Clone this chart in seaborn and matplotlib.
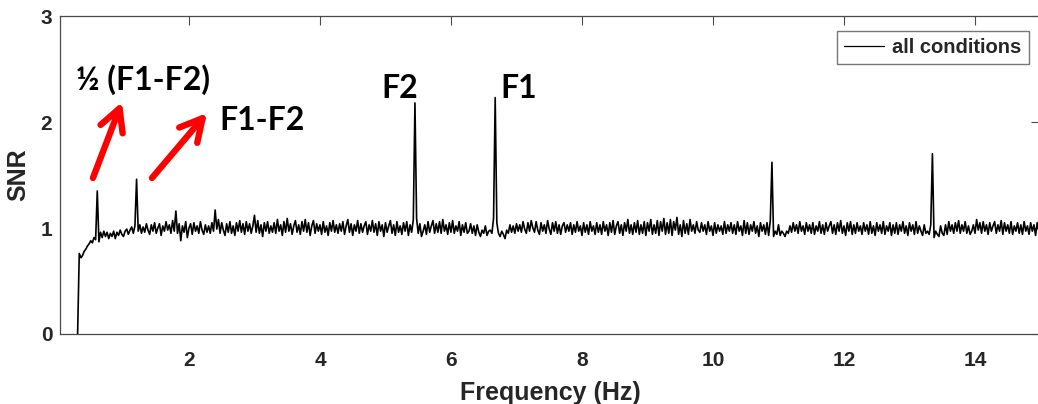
import numpy as np
import pandas as pd
import matplotlib
matplotlib.use("Agg")
import matplotlib.pyplot as plt
import seaborn as sns

# Spectrum bins: 0.3 Hz to 15 Hz in 0.025 Hz steps
freq_start = 0.3
freq_step = 0.025

# SNR per frequency bin (grand average over all conditions)
snr = [
    0.00, 0.76, 0.72, 0.74, 0.78, 0.80, 0.83, 0.85, 0.88, 0.86, 0.91, 0.89, 1.35, 0.87, 0.96, 0.91, 0.97, 0.92, 0.96, 0.90,
    0.95, 0.92, 0.97, 0.90, 0.96, 0.93, 0.98, 0.94, 0.92, 0.97, 0.99, 0.94, 0.98, 1.01, 0.95, 1.02, 1.46, 0.97, 1.03, 0.95,
    1.01, 0.96, 1.04, 0.98, 0.94, 1.03, 0.97, 1.05, 0.95, 1.00, 1.04, 0.93, 1.02, 0.97, 1.06, 0.98, 1.03, 0.95, 1.07, 0.97,
    1.16, 0.95, 1.04, 0.88, 1.02, 0.96, 1.06, 0.91, 1.00, 1.04, 0.94, 1.05, 0.97, 1.02, 0.95, 1.06, 0.98, 0.94, 1.03, 0.96,
    1.02, 0.95, 1.05, 0.97, 1.17, 0.99, 1.08, 0.95, 1.05, 0.98, 0.93, 1.04, 0.96, 1.06, 0.95, 1.02, 0.93, 1.05, 0.97, 1.07,
    0.96, 1.04, 0.94, 1.06, 0.97, 1.04, 0.95, 1.02, 1.12, 0.96, 1.07, 0.95, 1.03, 0.92, 1.05, 0.97, 1.06, 0.95, 1.02, 0.96,
    1.05, 0.95, 1.08, 0.97, 1.03, 0.93, 1.06, 0.96, 1.09, 0.97, 1.04, 0.94, 1.02, 1.07, 0.96, 1.03, 0.94, 1.06, 0.97, 1.08,
    0.96, 1.05, 0.93, 1.02, 1.07, 0.95, 1.04, 0.97, 1.03, 0.94, 1.06, 0.96, 1.02, 0.93, 1.05, 0.97, 1.07, 0.96, 1.03, 0.95,
    1.04, 0.97, 1.06, 0.94, 1.02, 1.08, 0.96, 1.04, 0.93, 1.03, 0.97, 1.07, 0.95, 1.04, 0.96, 1.02, 1.06, 0.94, 1.03, 0.97,
    1.07, 0.96, 1.04, 0.93, 1.06, 0.97, 1.03, 0.92, 1.05, 0.96, 1.02, 1.07, 0.95, 1.03, 0.93, 1.06, 0.96, 1.02, 0.94, 1.05,
    0.97, 1.06, 0.93, 1.03, 0.96, 1.08, 2.18, 1.09, 0.95, 1.04, 0.92, 0.97, 1.03, 0.94, 1.06, 0.96, 1.02, 1.07, 0.95, 1.04,
    0.96, 1.06, 0.95, 1.08, 0.97, 1.03, 0.94, 1.05, 0.96, 1.07, 0.95, 1.02, 0.97, 1.06, 0.93, 1.03, 0.96, 1.05, 0.95, 0.97,
    1.04, 0.95, 1.02, 0.93, 1.03, 0.96, 0.92, 0.98, 0.95, 1.02, 0.93, 0.97, 0.98, 0.95, 1.09, 2.23, 1.05, 0.95, 0.92, 0.97,
    0.94, 0.90, 0.98, 0.95, 1.03, 0.96, 1.02, 0.95, 1.04, 0.97, 1.03, 0.96, 1.06, 0.99, 0.95, 1.05, 0.97, 1.07, 1.00, 0.96,
    1.06, 0.98, 0.94, 1.05, 0.97, 1.03, 0.95, 1.07, 0.99, 0.94, 1.05, 0.97, 1.06, 0.95, 1.03, 0.94, 1.02, 1.05, 0.96, 1.03,
    0.97, 1.05, 0.94, 1.03, 0.96, 1.06, 0.97, 1.02, 0.93, 1.05, 0.96, 1.03, 0.94, 1.06, 0.97, 1.02, 0.94, 1.05, 0.96, 1.03,
    0.94, 1.06, 0.97, 1.03, 0.93, 1.05, 0.96, 1.07, 0.94, 1.02, 1.06, 0.95, 1.03, 0.93, 1.05, 0.97, 1.08, 0.95, 1.03, 0.94,
    1.05, 0.96, 1.07, 0.94, 1.03, 0.95, 1.06, 0.93, 1.05, 0.97, 1.08, 0.94, 1.03, 0.95, 1.07, 0.93, 1.06, 0.97, 1.09, 0.94,
    1.05, 0.95, 1.08, 0.93, 1.06, 0.98, 1.10, 0.94, 1.03, 0.92, 1.07, 0.95, 1.04, 0.94, 1.08, 0.97, 1.03, 0.95, 1.06, 0.98,
    0.96, 1.05, 0.97, 1.03, 0.94, 1.06, 0.97, 1.02, 0.93, 1.05, 0.95, 1.03, 0.97, 1.02, 0.94, 1.06, 0.95, 1.03, 0.97, 1.05,
    0.95, 1.03, 0.94, 1.06, 0.97, 1.02, 0.93, 1.07, 0.95, 1.05, 0.94, 1.03, 0.97, 1.06, 0.95, 1.02, 0.92, 1.05, 0.97, 1.03,
    0.94, 1.05, 0.93, 1.07, 1.62, 0.92, 0.97, 0.94, 1.03, 0.93, 0.97, 0.95, 0.92, 0.97, 0.95, 1.02, 0.96, 1.05, 0.97, 1.03,
    0.95, 1.06, 0.97, 1.02, 0.94, 1.05, 0.97, 1.03, 0.95, 1.05, 0.94, 1.02, 0.97, 1.06, 0.95, 1.03, 0.94, 1.05, 0.97, 1.02,
    1.06, 0.95, 1.03, 0.94, 1.05, 0.97, 1.07, 0.95, 1.02, 0.93, 1.05, 0.97, 1.06, 0.94, 1.03, 0.95, 1.05, 0.97, 1.02, 0.94,
    1.05, 0.97, 1.03, 0.94, 1.06, 0.95, 1.02, 0.93, 1.05, 0.97, 1.03, 0.95, 1.06, 0.94, 1.02, 0.97, 1.05, 0.93, 1.03, 0.95,
    1.05, 0.94, 1.03, 0.97, 1.06, 0.95, 1.02, 0.93, 1.05, 0.97, 1.03, 0.94, 1.06, 0.95, 1.02, 0.97, 0.93, 1.03, 0.95, 0.97,
    0.94, 1.03, 1.70, 0.91, 0.97, 0.94, 0.92, 1.02, 0.95, 0.93, 1.03, 0.94, 1.06, 0.97, 1.03, 0.95, 1.05, 0.97, 1.07, 0.95,
    1.03, 0.97, 1.06, 0.95, 1.02, 0.94, 0.97, 1.03, 0.95, 1.08, 0.98, 1.05, 0.95, 1.06, 0.97, 1.03, 0.94, 1.05, 0.97, 1.02,
    1.06, 0.95, 1.03, 0.97, 1.07, 0.94, 1.05, 0.97, 1.03, 0.95, 1.06, 0.94, 1.02, 0.97, 1.05, 0.95, 1.03, 0.94, 1.06, 0.97,
    1.02, 0.94, 1.05, 0.97, 1.03, 0.93, 1.05, 0.97, 1.02,
]

x_ticks = [2, 4, 6, 8, 10, 12, 14]
y_ticks = [0, 1, 2, 3]
series_label = "all conditions"

# Peak labels: text, x, y (data units)
peak_labels = ["\u00bd (F1-F2)", "F1-F2", "F2", "F1"]
peak_label_x = [0.28, 2.47, 4.93, 6.75]
peak_label_y = [2.30, 1.925, 2.23, 2.23]

# Arrows pointing from the intermodulation peaks to their labels
arrow_tail_x = [0.534, 1.435]
arrow_tail_y = [1.472, 1.472]
arrow_head_x = [0.977, 2.275]
arrow_head_y = [2.189, 2.085]

freq = np.round(freq_start + freq_step * np.arange(len(snr)), 4)
df = pd.DataFrame({"Frequency": freq, "SNR": snr})

sns.set_style("white")
plt.rcParams["font.family"] = ["Liberation Sans", "DejaVu Sans"]

fig = plt.figure(figsize=(10.38, 4.04), dpi=100)
ax = fig.add_axes([0.0578, 0.1733, 0.9446, 0.787])

sns.lineplot(data=df, x="Frequency", y="SNR", color="black", linewidth=1.2,
             label=series_label, ax=ax, estimator=None)

ax.set_xlim(0.031, 15)
ax.set_ylim(0, 3)
ax.set_xticks(x_ticks)
ax.set_yticks(y_ticks)

spine_col = "#4a4a4a"
tick_col = "#262626"
for s in ax.spines.values():
    s.set_color(spine_col)
    s.set_linewidth(0.9)

ax.tick_params(axis="both", direction="in", length=6.5, width=0.8, color=spine_col,
               top=True, right=True, labelcolor=tick_col, labelsize=15)
ax.tick_params(axis="x", pad=12)
ax.tick_params(axis="y", pad=5.5)
for lab in ax.get_xticklabels() + ax.get_yticklabels():
    lab.set_fontweight("bold")

ax.set_xlabel("Frequency (Hz)", fontsize=18, fontweight="bold", color=tick_col)
ax.set_ylabel("SNR", fontsize=18, fontweight="bold", color=tick_col)
ax.xaxis.set_label_coords(0.5, -0.148)
ax.yaxis.set_label_coords(-0.0306, 0.5)

leg = ax.legend(loc="upper right", bbox_to_anchor=(0.988, 0.953), borderaxespad=0,
                frameon=True, fancybox=False, edgecolor="#555555",
                prop={"weight": "bold", "size": 14.5}, handlelength=2.0,
                handletextpad=0.4, borderpad=0.35)
leg.get_frame().set_linewidth(1.0)
for h in leg.get_lines():
    h.set_linewidth(0.9)

for txt, tx, ty in zip(peak_labels, peak_label_x, peak_label_y):
    ax.text(tx, ty, txt, fontsize=23, fontweight="bold", family=["Lato", "DejaVu Sans"],
            color="black", ha="left", va="baseline")

for x0, y0, x1, y1 in zip(arrow_tail_x, arrow_tail_y, arrow_head_x, arrow_head_y):
    ax.annotate("", xy=(x1, y1), xytext=(x0, y0),
                arrowprops=dict(arrowstyle="->,head_length=1.6,head_width=0.85",
                                color="#ff0000", lw=4.6, mutation_scale=10,
                                shrinkA=0, shrinkB=0))

fig.savefig("out.png", dpi=100)
